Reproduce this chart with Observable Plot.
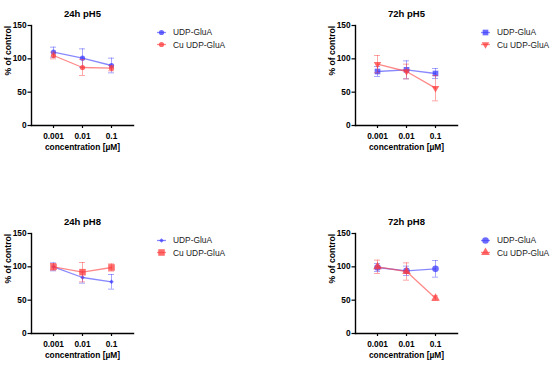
<!DOCTYPE html>
<html>
<head>
<meta charset="utf-8">
<script src="https://cdn.jsdelivr.net/npm/d3@7"></script>
<script src="https://cdn.jsdelivr.net/npm/@observablehq/plot@0.6"></script>
<style>
  html, body { margin: 0; padding: 0; background: #fff; }
  #fig { position: relative; width: 550px; height: 365px; overflow: hidden; font-family: "Liberation Sans", Arial, sans-serif; }
  .panel { position: absolute; }
  .legend { position: absolute; font-size: 8.4px; color: #222; }
  .legend .row { display: flex; align-items: center; height: 12.6px; white-space: nowrap; }
  .legend svg { overflow: visible; }
  .legend span { margin-left: 7px; }
</style>
</head>
<body>
<div id="fig"></div>
<script>
// ---- data ----
const concentrations = ["0.001", "0.01", "0.1"];
const seriesNames = ["UDP-GluA", "Cu UDP-GluA"];
const yTicks = [0, 50, 100, 150];
const panelTitles = ["24h pH5", "72h pH5", "24h pH8", "72h pH8"];

// means (% of control) and error half-widths
const udp24h5 = [110, 101, 90];
const udp24h5Err = [7.5, 14, 11];
const cu24h5 = [105, 87, 86];
const cu24h5Err = [5, 12, 4];

const udp72h5 = [81, 83.5, 78];
const udp72h5Err = [7.5, 13.5, 7.5];
const cu72h5 = [92, 81, 56];
const cu72h5Err = [13, 11, 19];

const udp24h8 = [100, 84, 77.5];
const udp24h8Err = [6, 8.5, 11];
const cu24h8 = [100, 92, 99];
const cu24h8Err = [5, 14.5, 5.5];

const udp72h8 = [99, 94, 97];
const udp72h8Err = [6, 7, 12.5];
const cu72h8 = [100, 93, 53];
const cu72h8Err = [10, 13, 3.5];

const BLUE = "#3b3bff";
const RED = "#ff3b3b";
const FONT = "'Liberation Sans', Arial, sans-serif";

const panels = [
  {title: panelTitles[0], left: 0, top: 0,
   series: [
     {name: seriesNames[0], mean: udp24h5, err: udp24h5Err, color: BLUE, symbol: "circle", r: 2.6, rotate: 0},
     {name: seriesNames[1], mean: cu24h5, err: cu24h5Err, color: RED, symbol: "circle", r: 2.6, rotate: 0}]},
  {title: panelTitles[1], left: 324, top: 0,
   series: [
     {name: seriesNames[0], mean: udp72h5, err: udp72h5Err, color: BLUE, symbol: "square", r: 3.2, rotate: 0},
     {name: seriesNames[1], mean: cu72h5, err: cu72h5Err, color: RED, symbol: "triangle", r: 2.8, rotate: 180}]},
  {title: panelTitles[2], left: 0, top: 208,
   series: [
     {name: seriesNames[0], mean: udp24h8, err: udp24h8Err, color: BLUE, symbol: "diamond2", r: 2.0, rotate: 0},
     {name: seriesNames[1], mean: cu24h8, err: cu24h8Err, color: RED, symbol: "square", r: 3.7, rotate: 0}]},
  {title: panelTitles[3], left: 324, top: 208,
   series: [
     {name: seriesNames[0], mean: udp72h8, err: udp72h8Err, color: BLUE, symbol: "circle", r: 3.3, rotate: 0},
     {name: seriesNames[1], mean: cu72h8, err: cu72h8Err, color: RED, symbol: "triangle", r: 3.2, rotate: 0}]}
];

const fig = document.getElementById("fig");
const ML = 31, PW = 102, MR = 10, MT = 25, PH = 100, MB = 40;

function panelPlot(p) {
  const marks = [
    Plot.axisY({ticks: yTicks, tickSize: 3.5, tickPadding: 1.5, label: null,
      fontSize: 8.3, fontWeight: "bold", fill: "black", stroke: "black", strokeWidth: 1.2}),
    Plot.axisX({tickSize: 3, tickPadding: 4.5, label: null,
      fontSize: 8.3, fontWeight: "bold", fill: "black", stroke: "black", strokeWidth: 1.2}),
    Plot.frame({anchor: "left", stroke: "black", strokeWidth: 1.4}),
    Plot.frame({anchor: "bottom", stroke: "black", strokeWidth: 1.4})
  ];
  for (const s of p.series) {
    const rows = concentrations.map((c, i) => ({c, m: s.mean[i], lo: s.mean[i] - s.err[i], hi: s.mean[i] + s.err[i]}));
    marks.push(
      Plot.ruleX(rows, {x: "c", y1: "lo", y2: "hi", stroke: s.color, strokeOpacity: 0.45, strokeWidth: 1}),
      Plot.ruleY(rows, {x1: "c", x2: "c", y: "hi", insetLeft: -3, insetRight: -3, stroke: s.color, strokeOpacity: 0.45, strokeWidth: 1}),
      Plot.ruleY(rows, {x1: "c", x2: "c", y: "lo", insetLeft: -3, insetRight: -3, stroke: s.color, strokeOpacity: 0.45, strokeWidth: 1}),
      Plot.line(rows, {x: "c", y: "m", stroke: s.color, strokeOpacity: 0.6, strokeWidth: 1.3}),
      Plot.dot(rows, {x: "c", y: "m", symbol: s.symbol, r: s.r, rotate: s.rotate, fill: s.color, fillOpacity: 0.75, stroke: "none"})
    );
  }
  marks.push(
    Plot.text([p.title], {frameAnchor: "top", dy: -15, fontSize: 9.5, fontWeight: "bold", fill: "black"}),
    Plot.text(["concentration [µM]"], {frameAnchor: "bottom", dy: 24.5, fontSize: 8.4, fontWeight: "bold", fill: "black"}),
    Plot.text(["% of control"], {frameAnchor: "left", dx: -23, rotate: -90, fontSize: 8.6, fontWeight: "bold", fill: "black"})
  );
  return Plot.plot({
    width: ML + PW + MR, height: MT + PH + MB,
    marginLeft: ML, marginRight: MR, marginTop: MT, marginBottom: MB,
    style: {fontFamily: FONT, color: "black", background: "transparent", overflow: "visible"},
    x: {type: "point", domain: concentrations, padding: 0.72},
    y: {domain: [yTicks[0], yTicks[yTicks.length - 1]]},
    marks
  });
}

function legendFor(p) {
  const div = document.createElement("div");
  div.className = "legend";
  div.style.left = (p.left + ML + PW + 24) + "px";
  div.style.top = (p.top + MT + 1) + "px";
  const types = {circle: d3.symbolCircle, square: d3.symbolSquare, triangle: d3.symbolTriangle, diamond2: d3.symbolDiamond2};
  for (const s of p.series) {
    const row = document.createElement("div");
    row.className = "row";
    const path = d3.symbol(types[s.symbol], Math.PI * s.r * s.r)();
    row.innerHTML = `<svg width="9" height="9" viewBox="0 0 9 9">
      <line x1="0" x2="9" y1="4.5" y2="4.5" stroke="${s.color}" stroke-opacity="0.6" stroke-width="1.3"/>
      <path d="${path}" transform="translate(4.5,4.5) rotate(${s.rotate})" fill="${s.color}" fill-opacity="0.75"/>
    </svg><span>${s.name}</span>`;
    div.appendChild(row);
  }
  return div;
}

for (const p of panels) {
  const holder = document.createElement("div");
  holder.className = "panel";
  holder.style.left = p.left + "px";
  holder.style.top = p.top + "px";
  holder.appendChild(panelPlot(p));
  fig.appendChild(holder);
  fig.appendChild(legendFor(p));
}
</script>
</body>
</html>
